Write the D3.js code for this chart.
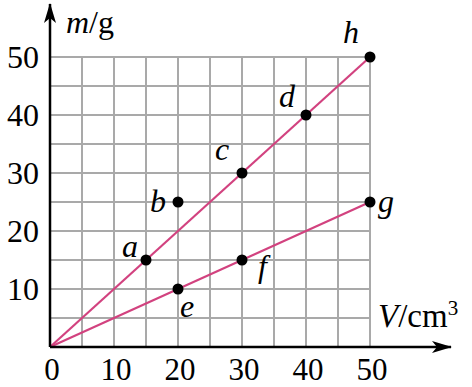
<!DOCTYPE html>
<html><head><meta charset="utf-8"><script src="https://cdn.jsdelivr.net/npm/d3@7"></script></head>
<body style="margin:0">
<script>
// tick labels on both axes
var xTicks = [0, 10, 20, 30, 40, 50];
var yTicks = [10, 20, 30, 40, 50];

// measured points (V in cm3, m in g)
var pointNames = ["a", "b", "c", "d", "h", "e", "f", "g"];
var pointV = [15, 20, 30, 40, 50, 20, 30, 50];
var pointM = [15, 25, 30, 40, 50, 10, 15, 25];

// two fitted lines through the origin
var lineEnds = [[0, 0, 50, 50], [0, 0, 50, 25]];

var width = 472, height = 387;
var svg = d3.select("body").append("svg")
  .attr("width", width).attr("height", height)
  .attr("font-family", "Liberation Serif");

var x = d3.scaleLinear().domain([0, 50]).range([50, 370]);
var y = d3.scaleLinear().domain([0, 50]).range([347, 57]);

// grid every 5 units
var grid = svg.append("g").attr("stroke", "#a9a9a9").attr("stroke-width", 2);
d3.range(5, 51, 5).forEach(function(v) {
  grid.append("line").attr("x1", x(v)).attr("x2", x(v)).attr("y1", y(0)).attr("y2", y(50));
  grid.append("line").attr("x1", x(0)).attr("x2", x(50)).attr("y1", y(v)).attr("y2", y(v));
});

// lines
svg.selectAll("line.fit").data(lineEnds).enter().append("line")
  .attr("class", "fit")
  .attr("x1", function(d) { return x(d[0]); })
  .attr("y1", function(d) { return y(d[1]); })
  .attr("x2", function(d) { return x(d[2]); })
  .attr("y2", function(d) { return y(d[3]); })
  .attr("stroke", "#d2427f").attr("stroke-width", 2.2);

// axes with arrows
svg.append("defs").append("marker")
  .attr("id", "arrow").attr("viewBox", "0 0 20 12")
  .attr("refX", 19).attr("refY", 6)
  .attr("markerWidth", 20).attr("markerHeight", 12)
  .attr("markerUnits", "userSpaceOnUse").attr("orient", "auto")
  .append("path").attr("d", "M0,0 L20,6 L0,12 L5,6 Z").attr("fill", "#000");

svg.append("line").attr("x1", x(0)).attr("y1", y(0)).attr("x2", 451).attr("y2", y(0))
  .attr("stroke", "#000").attr("stroke-width", 2.5).attr("marker-end", "url(#arrow)");
svg.append("line").attr("x1", x(0)).attr("y1", y(0)).attr("x2", x(0)).attr("y2", 4)
  .attr("stroke", "#000").attr("stroke-width", 2.5).attr("marker-end", "url(#arrow)");

// tick labels
svg.selectAll("text.xt").data(xTicks).enter().append("text")
  .attr("class", "xt")
  .attr("x", function(d) { return x(d) + 2; }).attr("y", 380)
  .attr("text-anchor", "middle").attr("font-size", 31)
  .text(function(d) { return d; });

svg.selectAll("text.yt").data(yTicks).enter().append("text")
  .attr("class", "yt")
  .attr("x", 39).attr("y", function(d) { return y(d) + 11; })
  .attr("text-anchor", "end").attr("font-size", 32)
  .text(function(d) { return d; });

// axis titles
var yt = svg.append("text").attr("x", 66).attr("y", 33).attr("font-size", 32);
yt.append("tspan").attr("font-style", "italic").text("m");
yt.append("tspan").text("/g");

var xt = svg.append("text").attr("x", 378).attr("y", 327).attr("font-size", 33);
xt.append("tspan").attr("font-style", "italic").text("V");
xt.append("tspan").text("/cm");
xt.append("tspan").attr("font-size", 21).attr("dy", -12).text("3");

// points
var pts = pointNames.map(function(n, i) { return { name: n, v: pointV[i], m: pointM[i] }; });
svg.selectAll("circle.pt").data(pts).enter().append("circle")
  .attr("class", "pt")
  .attr("cx", function(d) { return x(d.v); })
  .attr("cy", function(d) { return y(d.m); })
  .attr("r", 5.5).attr("fill", "#000");

// label offsets from the point
var labelOffsets = {
  a: [-24, -3], b: [-28, 10], c: [-27, -13], d: [-27, -8],
  h: [-27, -14], e: [2, 28], f: [16, 17], g: [8, 10]
};
svg.selectAll("text.pl").data(pts).enter().append("text")
  .attr("class", "pl")
  .attr("x", function(d) { return x(d.v) + labelOffsets[d.name][0]; })
  .attr("y", function(d) { return y(d.m) + labelOffsets[d.name][1]; })
  .attr("font-size", 32).attr("font-style", "italic")
  .text(function(d) { return d.name; });
</script>
</body>
</html>
